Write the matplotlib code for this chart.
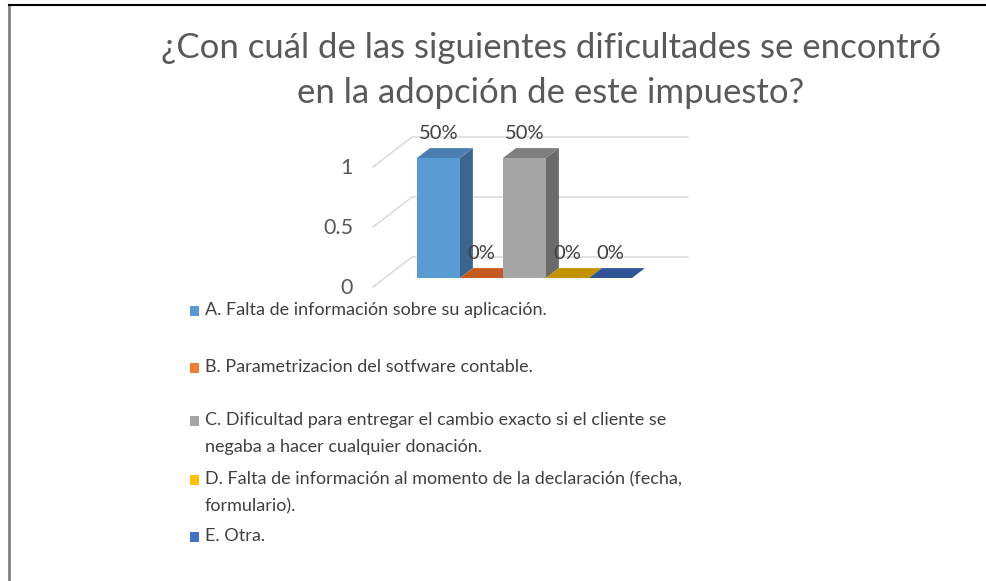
import matplotlib.pyplot as plt
from matplotlib.patches import Polygon
from matplotlib.lines import Line2D

plt.rcParams['font.family'] = ['Lato', 'DejaVu Sans']

# data
categories = ["A. Falta de información sobre su aplicación.",
              "B. Parametrizacion del sotfware contable.",
              "C. Dificultad para entregar el cambio exacto si el cliente se\nnegaba a hacer cualquier donación.",
              "D. Falta de información al momento de la declaración (fecha,\nformulario).",
              "E. Otra."]
values = [1, 0, 1, 0, 0]
labels = ["50%", "0%", "50%", "0%", "0%"]
yticks = [0, 0.5, 1]
ytick_labels = ["0", "0.5", "1"]

front_cols = ["#5B9BD5", "#ED7D31", "#A5A5A5", "#FFC000", "#4472C4"]
top_cols = ["#4A7EB2", "#C55A1E", "#7F7F7F", "#C49200", "#2F5597"]
side_cols = ["#3A6690", "#A04A18", "#6B6B6B", "#A07800", "#26467A"]

W, H = 986, 581
fig = plt.figure(figsize=(W / 100, H / 100), dpi=100)
ax = fig.add_axes([0, 0, 1, 1])
# depth-0 plane: category i starts at pixel x=405.3, 43 px per category, v=0 at y=287, 120 px per unit
ax.set_xlim(-405.3 / 43, (W - 405.3) / 43)
ax.set_ylim((287 - H) / 120, 287 / 120)
ax.axis('off')

DX, DY = 39 / 43, 30 / 120  # depth vector in data units
X0, X1 = -0.75, 5.67        # left wall, right end of grid
B0, B1 = 0.3, 0.63          # bar front/back depth


def proj(x, v, d):
    return (x + d * DX, v + d * DY)


# gridlines: slanted on left wall, horizontal on back wall
for t in yticks:
    p0 = proj(X0, t, 0)
    p1 = proj(X0, t, 1)
    p2 = proj(X1, t, 1)
    ax.add_line(Line2D([p0[0], p1[0], p2[0]], [p0[1], p1[1], p2[1]],
                       color="#D9D9D9", lw=1.1, zorder=1))
for t, s in zip(yticks, ytick_labels):
    ax.text(X0 - 0.466, t - 0.01, s, ha='right', va='center', fontsize=15.5, color="#595959")

# bars
for i, v in enumerate(values):
    front = [proj(i, 0, B0), proj(i + 1, 0, B0), proj(i + 1, v, B0), proj(i, v, B0)]
    side = [proj(i + 1, 0, B0), proj(i + 1, 0, B1), proj(i + 1, v, B1), proj(i + 1, v, B0)]
    top = [proj(i, v, B0), proj(i + 1, v, B0), proj(i + 1, v, B1), proj(i, v, B1)]
    if v > 0:
        ax.add_patch(Polygon(front, closed=True, fc=front_cols[i], ec='none', zorder=2 + i))
        ax.add_patch(Polygon(side, closed=True, fc=side_cols[i], ec='none', zorder=2 + i))
    ax.add_patch(Polygon(top, closed=True, fc=top_cols[i], ec='none', zorder=2 + i))
    ax.annotate(labels[i], proj(i + 0.5, v, B0), xytext=(0, 17.5), textcoords='offset points',
                ha='center', va='center', fontsize=14.5, color="#404040", zorder=10)

# title
fig.text(551 / W, 1 - 48 / H, "¿Con cuál de las siguientes dificultades se encontró",
         ha='center', va='center', fontsize=25, color="#595959")
fig.text(551 / W, 1 - 93 / H, "en la adopción de este impuesto?",
         ha='center', va='center', fontsize=25, color="#595959")

# legend
leg_y = [311, 368, 421, 480, 537]
for i, (c, y) in enumerate(zip(categories, leg_y)):
    fig.patches.append(plt.Rectangle((190 / W, 1 - (y + 5) / H), 9 / W, 10 / H,
                                     transform=fig.transFigure, fc=front_cols[i], ec='none'))
    fig.text(205 / W, 1 - (y - 9) / H, c, ha='left', va='top', fontsize=13,
             color="#404040", linespacing=1.88)

# frame
fig.add_artist(Line2D([9 / W, 9 / W], [0, 1 - 5 / H], color="#808080", lw=2))
fig.add_artist(Line2D([9 / W, 1], [1 - 5 / H, 1 - 5 / H], color="#000000", lw=1.5))

fig.savefig("out.png", dpi=100)
